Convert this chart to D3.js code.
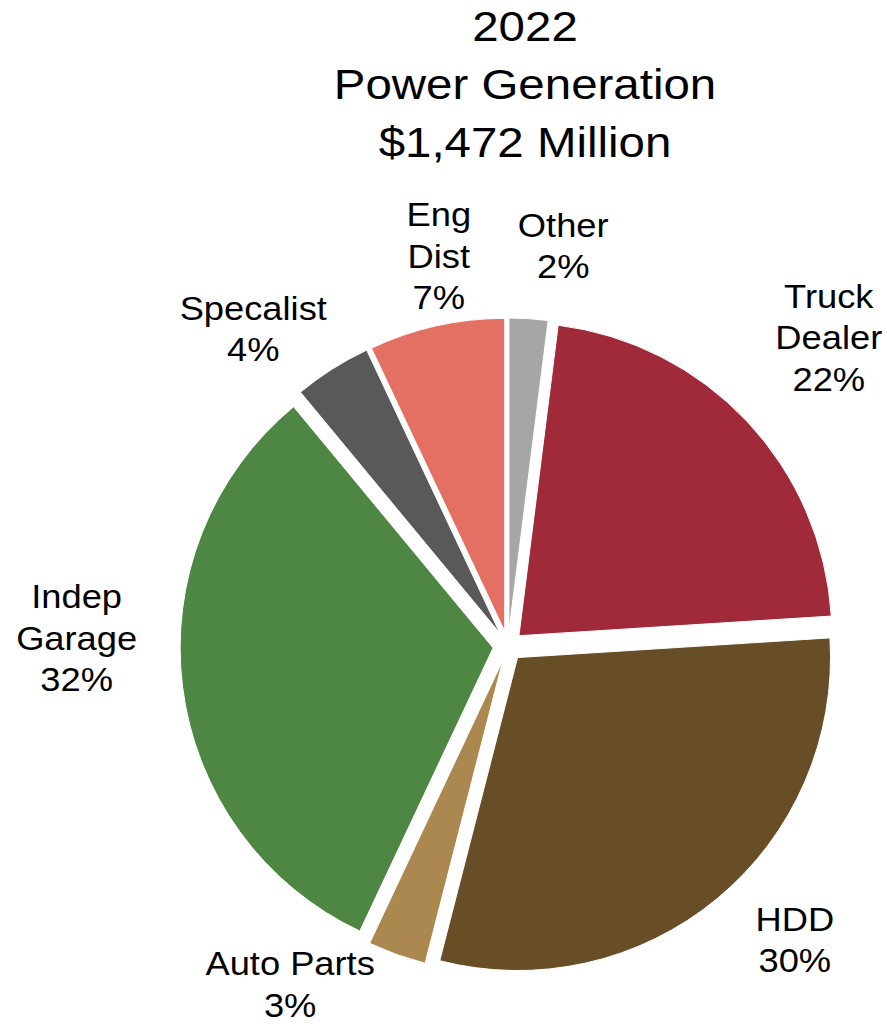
<!DOCTYPE html>
<html>
<head>
<meta charset="utf-8">
<script src="https://cdn.jsdelivr.net/npm/d3@7"></script>
<style>
  body { margin: 0; background: #fff; }
  svg text { font-family: "Liberation Sans", Arial, sans-serif; fill: #000; }
</style>
</head>
<body>
<svg class="pie-chart" width="887" height="1026"></svg>
<script>
// Slices go clockwise from 12 o'clock, same order as the reference.
const categories = ["Other", "Truck\nDealer", "HDD", "Auto Parts", "Indep\nGarage", "Specalist", "Eng\nDist"];
const shares = [2, 22, 30, 3, 32, 4, 7];
const colors = ["#a6a6a6", "#a0293a", "#674e27", "#ab8850", "#4e8644", "#595959", "#e46f63"];
const titleLines = ["2022", "Power Generation", "$1,472 Million"];

const width = 887;
const height = 1026;
const cx = 508;
const cy = 646;
const radius = 313;
const explode = 15;

// small hand tweaks so the labels sit where the original ones do
const labelNudge = [[31, -22], [34, -35], [45, 2], [-74, -18], [-34, -58], [-33, 3], [12, 0]];

let data = categories.map((c, i) => ({ name: c, value: shares[i], color: colors[i], i: i }));

let svg = d3.select(".pie-chart");

// title, stretched a little wider like the original
let title = svg.append("g").attr("transform", `translate(525,0) scale(1.13,1)`);
title.selectAll("text")
  .data(titleLines)
  .join("text")
  .attr("x", 0)
  .attr("y", (d, i) => 41 + i * 58)
  .attr("text-anchor", "middle")
  .attr("font-size", 42)
  .text(d => d);

let pie = d3.pie().sort(null).value(d => d.value);
let arc = d3.arc().innerRadius(0).outerRadius(radius);
let arcs = pie(data);

let mid = d => (d.startAngle + d.endAngle) / 2;

let g = svg.append("g").attr("transform", `translate(${cx},${cy})`);

g.selectAll("path")
  .data(arcs)
  .join("path")
  .attr("transform", d => `translate(${explode * Math.sin(mid(d))},${-explode * Math.cos(mid(d))})`)
  .attr("d", arc)
  .attr("fill", d => d.data.color)
  .attr("stroke", "#fff")
  .attr("stroke-width", 1);

// labels outside the end of each slice
const fontSize = 33;
const lineHeight = 41.5;
const stretch = 1.1;

let labels = g.selectAll("g.label")
  .data(arcs)
  .join("g")
  .attr("class", "label");

let texts = labels.append("g").attr("transform", `scale(${stretch},1)`)
  .append("text")
  .attr("text-anchor", "middle")
  .attr("font-size", fontSize);

texts.each(function (d) {
  let lines = d.data.name.split("\n").concat([d.data.value + "%"]);
  let n = lines.length;
  d3.select(this).selectAll("tspan")
    .data(lines)
    .join("tspan")
    .attr("x", 0)
    .attr("y", (l, k) => (k - (n - 1) / 2) * lineHeight + fontSize * 0.35)
    .text(l => l);
});

labels.attr("transform", function (d) {
  let box = this.getBBox();
  let a = mid(d);
  let r = radius + explode + 12;
  let sx = Math.sin(a), sy = -Math.cos(a);
  let x = r * sx + sx * box.width / 2 + labelNudge[d.data.i][0];
  let y = r * sy + sy * box.height / 2 + labelNudge[d.data.i][1];
  return `translate(${x},${y})`;
});
</script>
</body>
</html>
